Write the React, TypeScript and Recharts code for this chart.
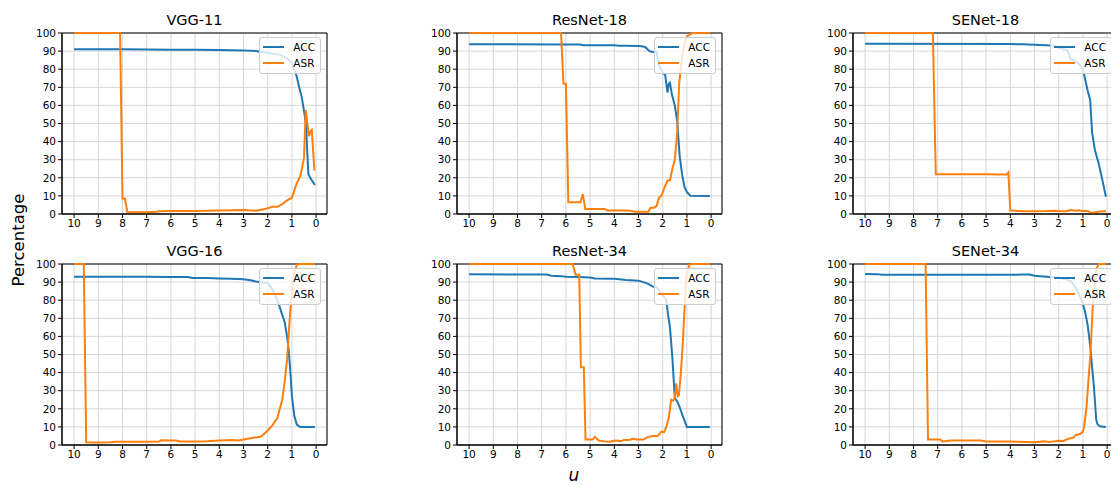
import { LineChart, Line, XAxis, YAxis, CartesianGrid, Legend, ReferenceArea } from 'recharts'

type Pt = [number, number]

// u on the x axis (reversed), percentage on the y axis
const X_TICKS = [10, 9, 8, 7, 6, 5, 4, 3, 2, 1, 0]
const Y_TICKS = [0, 10, 20, 30, 40, 50, 60, 70, 80, 90, 100]
const TITLES = ['VGG-11', 'ResNet-18', 'SENet-18', 'VGG-16', 'ResNet-34', 'SENet-34']

const vgg11Acc: Pt[] = [
  [10, 91], [8, 91], [7, 90.9], [6, 90.8], [5, 90.8], [4, 90.6], [3, 90.4], [2.5, 90], [2, 89],
  [1.5, 88], [1.2, 86], [1, 83.5], [0.8, 76], [0.7, 70], [0.6, 65], [0.5, 57], [0.42, 50],
  [0.32, 22], [0.2, 19], [0.05, 16],
]
const vgg11Asr: Pt[] = [
  [10, 100], [8.1, 100], [8.0, 8.5], [7.9, 8.5], [7.8, 1], [7, 1], [6.6, 1.2], [6.5, 1.5], [6, 1.6],
  [5, 1.7], [4, 2], [3, 2.2], [2.5, 1.8], [2.2, 2.5], [2, 3.2], [1.8, 4], [1.6, 4], [1.4, 5.5],
  [1.2, 7.5], [1, 9], [0.9, 13], [0.8, 17], [0.65, 21], [0.5, 31], [0.43, 57.5], [0.38, 52],
  [0.3, 43], [0.22, 46], [0.18, 46.5], [0.07, 24],
]

const resnet18Acc: Pt[] = [
  [10, 93.8], [6, 93.7], [5.4, 93.6], [5.3, 93.3], [4, 93.2], [3.8, 93], [3.5, 93], [3, 92.8],
  [2.8, 92.5], [2.7, 92], [2.55, 90], [2.4, 89.5], [2.25, 89.5], [2.15, 82], [2.0, 78], [1.9, 77],
  [1.8, 67], [1.75, 72], [1.7, 72.5], [1.62, 66], [1.5, 60], [1.4, 51], [1.3, 32], [1.2, 22],
  [1.1, 15], [1.0, 12], [0.85, 10.1], [0.05, 10],
]
const resnet18Asr: Pt[] = [
  [10, 100], [6.2, 100], [6.1, 72], [6.0, 72], [5.9, 6.5], [5.4, 6.5], [5.3, 11], [5.2, 2.8],
  [4.4, 2.8], [4.3, 2], [3.5, 2], [3.3, 1.6], [3.1, 1.3], [2.6, 1.3], [2.5, 3.5], [2.35, 3.5],
  [2.25, 4.5], [2.15, 9], [2.05, 10], [1.9, 15.5], [1.8, 18.5], [1.7, 18.5], [1.6, 25], [1.5, 30],
  [1.4, 45], [1.32, 72], [1.2, 87], [1.1, 94], [1.0, 98], [0.85, 99.5], [0.75, 100], [0.05, 100],
]

const senet18Acc: Pt[] = [
  [10, 94], [4, 93.9], [3.5, 93.8], [3, 93.5], [2.5, 93.2], [2.2, 93], [2, 92], [1.8, 91],
  [1.65, 90.5], [1.5, 85.5], [1.3, 84], [1.2, 83.5], [1, 80], [0.9, 74], [0.8, 68], [0.7, 63],
  [0.62, 45], [0.5, 35], [0.35, 28], [0.2, 19], [0.05, 9.5],
]
const senet18Asr: Pt[] = [
  [10, 100], [7.2, 100], [7.08, 22], [5, 22], [4.5, 21.8], [4.15, 21.8], [4.08, 23], [4, 2],
  [3.5, 1.5], [3, 1.5], [2.5, 1.6], [2.2, 1.8], [2, 1.6], [1.7, 1.5], [1.5, 2.2], [1.3, 1.8],
  [1.2, 2.1], [1, 1.6], [0.8, 1.7], [0.65, 0.5], [0.5, 1], [0.3, 1.4], [0.05, 1.5],
]

const vgg16Acc: Pt[] = [
  [10, 93], [7, 92.9], [6, 92.8], [5.3, 92.8], [5.1, 92.3], [4.5, 92.2], [4, 92], [3.5, 91.8],
  [3, 91.6], [2.7, 91], [2.5, 90.3], [2.2, 89.8], [2, 89.5], [1.8, 86], [1.6, 80], [1.45, 74],
  [1.3, 68], [1.2, 60], [1.13, 52], [1.05, 38], [1, 27], [0.9, 16], [0.8, 11.4], [0.7, 10.2],
  [0.6, 10], [0.05, 10],
]
const vgg16Asr: Pt[] = [
  [10, 100], [9.6, 100], [9.5, 1.5], [9, 1.4], [8.5, 1.5], [8.3, 1.8], [7, 1.8], [6.5, 1.9],
  [6.4, 2.6], [6, 2.5], [5.8, 2.5], [5.6, 2], [5, 2], [4.5, 2.1], [4, 2.5], [3.5, 2.7], [3.2, 2.5],
  [3, 3], [2.6, 4], [2.3, 4.6], [2.2, 5.5], [2, 8], [1.8, 11], [1.6, 15], [1.5, 20], [1.4, 25],
  [1.3, 35], [1.2, 47], [1.1, 68], [1.0, 85], [0.9, 95], [0.8, 99.5], [0.7, 100], [0.05, 100],
]

const resnet34Acc: Pt[] = [
  [10, 94.3], [7, 94.2], [6.8, 94.2], [6.6, 93.5], [6.2, 93.3], [6, 93], [5.5, 92.8], [5, 92.5],
  [4.8, 92], [4, 91.8], [3.5, 91.2], [3, 90.8], [2.8, 90], [2.6, 89], [2.4, 87.5], [2.25, 87],
  [2, 83], [1.85, 80], [1.78, 72], [1.7, 65], [1.6, 48], [1.5, 26], [1.4, 24], [1.3, 21],
  [1.2, 17], [1.0, 10], [0.05, 10],
]
const resnet34Asr: Pt[] = [
  [10, 100], [5.72, 100], [5.6, 94], [5.45, 94], [5.38, 43], [5.26, 43], [5.19, 3], [4.9, 3],
  [4.8, 4.5], [4.65, 2.5], [4.4, 2], [4.2, 1.8], [4, 2.3], [3.85, 2.5], [3.75, 2], [3.6, 2.8],
  [3.4, 2.8], [3.2, 3.5], [3.1, 3], [2.8, 3], [2.6, 4.5], [2.4, 5], [2.2, 5], [2.1, 6.5],
  [2.05, 7.5], [1.95, 7], [1.85, 10], [1.75, 15], [1.65, 25], [1.57, 24.5], [1.5, 26], [1.44, 34],
  [1.38, 27], [1.33, 27.5], [1.25, 40], [1.17, 56], [1.1, 75], [1.05, 88], [1.0, 95], [0.9, 99.5],
  [0.8, 100], [0.05, 100],
]

const senet34Acc: Pt[] = [
  [10, 94.5], [9.5, 94.4], [9.3, 94], [6, 94], [4, 94], [3.5, 94.2], [3.2, 94.2], [3, 93.5],
  [2.5, 93], [2, 92.5], [1.7, 91.5], [1.5, 90.5], [1.3, 87], [1.15, 83], [1, 78], [0.9, 73],
  [0.8, 66], [0.7, 55], [0.6, 40], [0.55, 33], [0.45, 14], [0.4, 11.5], [0.3, 10.3], [0.05, 10],
]
const senet34Asr: Pt[] = [
  [10, 100], [7.5, 100], [7.4, 3], [6.9, 3], [6.8, 2], [6.6, 2.2], [6.5, 2.5], [5.2, 2.5], [5, 2],
  [4, 2], [3.7, 1.8], [3, 1.5], [2.6, 2], [2.4, 1.6], [2.2, 2], [2, 2.3], [1.8, 2.2], [1.6, 3.5],
  [1.5, 3.8], [1.4, 4], [1.3, 5.5], [1.2, 5.8], [1.1, 6.2], [1, 7.5], [0.95, 10], [0.85, 21],
  [0.75, 40], [0.69, 50], [0.6, 75], [0.55, 82], [0.45, 97], [0.35, 100], [0.05, 100],
]

const ACC_SERIES = [vgg11Acc, resnet18Acc, senet18Acc, vgg16Acc, resnet34Acc, senet34Acc]
const ASR_SERIES = [vgg11Asr, resnet18Asr, senet18Asr, vgg16Asr, resnet34Asr, senet34Asr]

const FONT = '"DejaVu Sans", sans-serif'
const PLOT_W = 265
const PLOT_H = 181
const Y_AXIS_W = 40
const M_TOP = 5
const M_RIGHT = 8
const X_AXIS_H = 24
const COL_LEFT = [62, 457, 853]
const ROW_TOP = [33, 264]
const X_DOMAIN: [number, number] = [-0.45, 10.5]

const toRows = (pts: Pt[]) => pts.map(([u, v]) => ({ u, v }))

function LegendBox(props: any) {
  const payload = props.payload || []
  return (
    <div
      style={{
        background: 'rgba(255,255,255,0.8)',
        border: '1px solid #cccccc',
        borderRadius: 3,
        padding: '1px 5px 2px 3px',
        fontFamily: FONT,
        fontSize: 10.5,
        lineHeight: '16px',
        color: '#000',
      }}
    >
      {payload.map((p: any) => (
        <div key={p.value} style={{ display: 'flex', alignItems: 'center', whiteSpace: 'nowrap' }}>
          <svg width={21} height={10} style={{ display: 'block' }}>
            <line x1={0} y1={5} x2={21} y2={5} stroke={p.color} strokeWidth={2} />
          </svg>
          <span style={{ marginLeft: 9 }}>{p.value}</span>
        </div>
      ))}
    </div>
  )
}

function Panel({ idx }: { idx: number }) {
  const left = COL_LEFT[idx % 3]
  const top = ROW_TOP[Math.floor(idx / 3)]
  const tick = { fontSize: 10.5, fill: '#000', fontFamily: FONT }
  return (
    <>
      <div
        style={{
          position: 'absolute',
          left,
          top: top - 23,
          width: PLOT_W,
          textAlign: 'center',
          fontFamily: FONT,
          fontSize: 14.5,
          fontWeight: 400,
          lineHeight: '20px',
          color: '#000',
        }}
      >
        {TITLES[idx]}
      </div>
      <div style={{ position: 'absolute', left: left - Y_AXIS_W, top: top - M_TOP }}>
        <LineChart
          width={Y_AXIS_W + PLOT_W + M_RIGHT}
          height={M_TOP + PLOT_H + X_AXIS_H}
          margin={{ top: M_TOP, right: M_RIGHT, bottom: 0, left: 0 }}
        >
          <CartesianGrid stroke="#d2d2d2" strokeWidth={0.9} />
          <XAxis
            type="number"
            dataKey="u"
            domain={X_DOMAIN}
            reversed
            allowDataOverflow
            ticks={X_TICKS}
            interval={0}
            height={X_AXIS_H}
            tickSize={4}
            tickMargin={2}
            tick={tick}
            tickLine={{ stroke: '#000' }}
            axisLine={{ stroke: '#000' }}
          />
          <YAxis
            type="number"
            domain={[0, 100]}
            ticks={Y_TICKS}
            interval={0}
            width={Y_AXIS_W}
            tickSize={4}
            tickMargin={2}
            tick={tick}
            tickLine={{ stroke: '#000' }}
            axisLine={{ stroke: '#000' }}
          />
          <Line
            data={toRows(ACC_SERIES[idx])}
            dataKey="v"
            name="ACC"
            stroke="#1f77b4"
            strokeWidth={2}
            dot={false}
            activeDot={false}
            isAnimationActive={false}
          />
          <Line
            data={toRows(ASR_SERIES[idx])}
            dataKey="v"
            name="ASR"
            stroke="#ff7f0e"
            strokeWidth={2}
            dot={false}
            activeDot={false}
            isAnimationActive={false}
          />
          <ReferenceArea
            x1={X_DOMAIN[0]}
            x2={X_DOMAIN[1]}
            y1={0}
            y2={100}
            fill="none"
            stroke="#000"
            strokeWidth={1}
            ifOverflow="visible"
          />
          <Legend
            layout="vertical"
            align="center"
            verticalAlign="middle"
            content={LegendBox}
            wrapperStyle={{ top: 9, right: M_RIGHT + 6, left: 'auto', bottom: 'auto', width: 'auto' }}
          />
        </LineChart>
      </div>
    </>
  )
}

export default function App() {
  return (
    <div
      style={{
        position: 'fixed',
        left: 0,
        top: 0,
        width: 1111,
        height: 485,
        overflow: 'hidden',
        background: '#fff',
      }}
    >
      {[0, 1, 2, 3, 4, 5].map((i) => (
        <Panel key={i} idx={i} />
      ))}
      <div
        style={{
          position: 'absolute',
          left: 18,
          top: 240,
          transform: 'translate(-50%, -50%) rotate(-90deg)',
          fontFamily: FONT,
          fontSize: 16.5,
          color: '#000',
          whiteSpace: 'nowrap',
        }}
      >
        Percentage
      </div>
      <div
        style={{
          position: 'absolute',
          left: 564,
          top: 468,
          width: 20,
          textAlign: 'center',
          fontFamily: FONT,
          fontStyle: 'italic',
          fontSize: 17,
          lineHeight: '15px',
          color: '#000',
        }}
      >
        u
      </div>
    </div>
  )
}
